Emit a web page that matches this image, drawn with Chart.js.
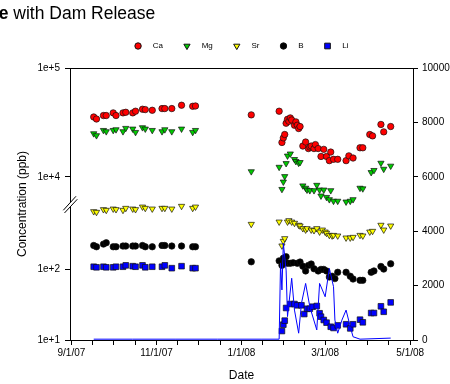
<!DOCTYPE html>
<html>
<head>
<meta charset="utf-8">
<script src="https://cdn.jsdelivr.net/npm/chart.js@4.4.1/dist/chart.umd.min.js"></script>
<style>
  html, body { margin: 0; padding: 0; background: #fff; }
</style>
</head>
<body>
<canvas id="chart" width="450" height="384"></canvas>
<script>
// fall 2007 samples (all species on the same days)
const fallDates = ['9/17/07','9/19/07','9/24/07','9/26/07','10/1/07','10/3/07','10/8/07','10/10/07','10/15/07','10/17/07',
  '10/22/07','10/24/07','10/29/07','11/5/07','11/7/07','11/12/07','11/19/07','11/27/07','11/29/07'];
const caFall = [35500,34000,36600,36600,38700,36600,38700,39200,38700,40100,41800,41500,40900,42400,42400,42400,45500,44500,44800];
const mgFall = [25000,24000,26800,26100,26800,27200,26100,28000,27600,25700,28400,27600,26800,26100,27200,26100,27600,25700,26800];
const srFall = [661,646,706,690,720,706,690,736,720,706,768,736,720,736,736,720,786,736,768];
const bFall  = [218,209,228,238,209,209,214,214,214,214,218,209,209,218,218,214,214,209,209];
const liFall = [109,107,109,107,107,109,109,114,111,109,114,107,109,109,114,104,111,104,104];

// 2008 samples, during the dam release
const caDates = ['1/8/08','1/28/08','1/30/08','1/31/08','2/1/08','2/2/08','2/3/08','2/4/08','2/5/08','2/6/08',
  '2/8/08','2/9/08','2/10/08','2/11/08','2/12/08','2/14/08','2/16/08','2/18/08','2/19/08','2/20/08',
  '2/22/08','2/23/08','2/25/08','2/27/08','2/29/08','3/2/08','3/4/08','3/5/08','3/7/08','3/10/08',
  '3/16/08','3/18/08','3/21/08','3/26/08','3/28/08','4/2/08','4/4/08','4/10/08','4/12/08','4/17/08'];
const caValues = [37100,40100,20700,22800,24500,31100,33800,32400,34800,33300,
  29800,32000,29800,27800,29000,19200,20900,18200,18800,19200,
  18200,19800,18200,15400,17900,15400,14100,16900,14500,14500,
  14100,15600,14900,18500,18500,24500,23800,30300,25900,29000];

const mgDates = ['1/8/08','1/28/08','1/30/08','1/31/08','2/1/08','2/2/08','2/3/08','2/5/08','2/8/08','2/9/08',
  '2/11/08','2/12/08','2/14/08','2/16/08','2/17/08','2/19/08','2/22/08','2/24/08','2/26/08','2/27/08',
  '2/29/08','3/2/08','3/4/08','3/5/08','3/7/08','3/10/08','3/16/08','3/19/08','3/21/08','3/26/08',
  '3/28/08','4/3/08','4/5/08','4/10/08','4/12/08','4/17/08'];
const mgValues = [11200,12300,7700,9000,10100,13300,15600,16300,14500,13900,
  13400,13600,8300,7900,7600,7500,7500,8400,7600,6700,
  7600,6500,6200,7500,6000,6000,5900,6000,6200,7900,
  7800,11000,11500,13400,11800,12600];

const srDates = ['1/8/08','1/28/08','1/30/08','1/31/08','2/1/08','2/3/08','2/4/08','2/6/08','2/8/08','2/11/08',
  '2/12/08','2/14/08','2/16/08','2/17/08','2/20/08','2/22/08','2/24/08','2/26/08','2/28/08','3/1/08',
  '3/2/08','3/4/08','3/6/08','3/7/08','3/10/08','3/16/08','3/19/08','3/21/08','3/26/08','3/28/08',
  '4/2/08','4/4/08','4/10/08','4/12/08','4/17/08'];
const srValues = [437,471,216,251,274,471,493,471,452,424,
  414,380,363,380,363,356,380,340,363,340,
  326,305,299,305,299,280,280,286,305,299,
  340,348,424,363,414];

const bDates = ['1/8/08','1/28/08','1/30/08','1/31/08','2/1/08','2/2/08','2/3/08','2/5/08','2/7/08','2/10/08',
  '2/12/08','2/14/08','2/16/08','2/18/08','2/20/08','2/22/08','2/25/08','2/27/08','2/29/08','3/2/08',
  '3/4/08','3/6/08','3/8/08','3/10/08','3/16/08','3/19/08','3/21/08','3/26/08','3/28/08','4/3/08',
  '4/5/08','4/10/08','4/12/08','4/17/08'];
const bValues = [128,132,114,144,127,151,122,122,124,122,
  127,111,95,114,119,102,95,100,100,95,
  78,80,74,91,91,80,73,70,70,91,
  95,110,101,120];

const liDates = ['1/30/08','1/31/08','2/1/08','2/2/08','2/5/08','2/8/08','2/10/08','2/13/08','2/15/08','2/17/08',
  '2/19/08','2/21/08','2/24/08','2/26/08','2/27/08','2/29/08','3/2/08','3/5/08','3/7/08','3/10/08',
  '3/16/08','3/19/08','3/21/08','3/26/08','3/28/08','4/3/08','4/5/08','4/10/08','4/12/08','4/17/08'];
const liValues = [13.4,16.5,18.8,28.4,32.3,32.3,31,31,23.3,27.7,
  27.7,29.6,30.3,23.9,21.4,19.2,17.6,15.4,14.8,16.1,
  16.7,14.6,16.7,19.4,17.8,24.1,24.1,30,25.1,34.1];

// dam release (right axis)
const flowDates = ['9/17/07','10/15/07','11/15/07','12/15/07','1/15/08','1/28/08','1/29/08','1/30/08','1/31/08','2/2/08',
  '2/3/08','2/6/08','2/8/08','2/11/08','2/13/08','2/16/08','2/19/08','2/24/08','2/26/08','2/28/08',
  '3/1/08','3/4/08','3/7/08','3/8/08','3/10/08','3/13/08','3/16/08','3/19/08','3/21/08','3/26/08','4/17/08'];
const flowValues = [30,30,30,30,30,30,2820,1840,3550,2570,
  860,2270,1100,250,1350,2080,1220,370,2080,1840,
  1590,2630,1960,730,250,730,1100,490,120,30,70];

const xTickDates = ['9/1/07','11/1/07','1/1/08','3/1/08','5/1/08'];
const leftTickValues = [10, 100, 10000, 100000];
const leftTickLabels = ['1e+1','1e+2','1e+4','1e+5'];
const rightTickValues = [0, 2000, 4000, 6000, 8000, 10000];

const titleBold = 'e';
const titleRest = ' with Dam Release';
const FONT = '"Liberation Sans", Arial, sans-serif';

const origin = Date.UTC(2007, 8, 1);
function dayOf(s) {
  const [m, d, y] = s.split('/').map(Number);
  return (Date.UTC(2000 + y, m - 1, d) - origin) / 86400000;
}

// broken log axis: 10..1000 below the break, ~6000..1e5 above it
function brk(v) {
  const l = Math.log10(v);
  return v <= 2000 ? (l - 1) * 70.7 : 163.3 + (l - 4) * 109;
}

function pts(dates, values, tf) {
  return dates.map((d, i) => ({ x: dayOf(d), y: tf(values[i]) }));
}

const series = [
  { label: 'Ca', fall: caFall, dates: caDates, values: caValues, color: '#ff0000', style: 'circle', rot: 0, r: 3.2 },
  { label: 'Mg', fall: mgFall, dates: mgDates, values: mgValues, color: '#00cc00', style: 'triangle', rot: 180, r: 3.6 },
  { label: 'Sr', fall: srFall, dates: srDates, values: srValues, color: '#ffff00', style: 'triangle', rot: 180, r: 3.6 },
  { label: 'B',  fall: bFall,  dates: bDates,  values: bValues,  color: '#000000', style: 'circle', rot: 0, r: 3.2 },
  { label: 'Li', fall: liFall, dates: liDates, values: liValues, color: '#0000ff', style: 'rect', rot: 0, r: 4 }
];

const datasets = [{
  type: 'line',
  label: 'Dam release',
  data: pts(flowDates, flowValues, v => v),
  yAxisID: 'y2',
  borderColor: '#0000ff',
  borderWidth: 1,
  pointRadius: 0,
  tension: 0,
  fill: false
}];
series.forEach(s => {
  datasets.push({
    type: 'scatter',
    label: s.label,
    data: pts(fallDates, s.fall, brk).concat(pts(s.dates, s.values, brk)),
    yAxisID: 'y',
    pointStyle: s.style,
    rotation: s.rot,
    pointRadius: s.r,
    backgroundColor: s.color,
    borderColor: '#111',
    borderWidth: 0.7
  });
});

// major ticks every two months, three minor ticks between
const majorDays = xTickDates.map(dayOf);
const xTicks = [];
majorDays.forEach((d, i) => {
  xTicks.push(d);
  if (i < majorDays.length - 1) {
    const step = (majorDays[i + 1] - d) / 4;
    for (let k = 1; k < 4; k++) xTicks.push(d + k * step);
  }
});

const decor = {
  id: 'decor',
  afterDraw(chart) {
    const { ctx, chartArea: a } = chart;
    ctx.save();
    ctx.strokeStyle = '#000';
    ctx.lineWidth = 1;
    ctx.beginPath();
    ctx.moveTo(a.left, a.top + 0.5);
    ctx.lineTo(a.right, a.top + 0.5);
    ctx.stroke();

    // axis break marks
    const x = a.left, by = chart.scales.y.getPixelForValue(brk(1000)) + 5.5;
    ctx.fillStyle = '#fff';
    ctx.beginPath();
    ctx.moveTo(x - 6.7, by + 6); ctx.lineTo(x + 6, by - 8);
    ctx.lineTo(x + 7.3, by - 5); ctx.lineTo(x - 5.5, by + 8.7);
    ctx.closePath(); ctx.fill();
    ctx.beginPath();
    ctx.moveTo(x - 6.7, by + 6); ctx.lineTo(x + 6, by - 8);
    ctx.moveTo(x - 5.5, by + 8.7); ctx.lineTo(x + 7.3, by - 5);
    ctx.stroke();

    // legend
    ctx.font = '8px ' + FONT;
    ctx.textBaseline = 'middle';
    const widths = series.map(s => ctx.measureText(s.label).width);
    const total = 3.5 + widths.reduce((p, w) => p + w, 0) + series.length * 14.7 + (series.length - 1) * 24;
    let mx = (a.left + a.right) / 2 - total / 2 + 3.5;
    const ly = 46;
    series.forEach((s, i) => {
      ctx.fillStyle = s.color;
      ctx.strokeStyle = '#111';
      Chart.helpers.drawPoint(ctx, { pointStyle: s.style, radius: s.r, rotation: s.rot, borderWidth: 0.7 }, mx, ly);
      ctx.fillStyle = '#000';
      ctx.fillText(s.label, mx + 14.7, ly);
      mx += 14.7 + widths[i] + 24;
    });

    // title (cut at the left edge)
    ctx.textBaseline = 'alphabetic';
    ctx.font = 'bold 17.5px ' + FONT;
    ctx.fillText(titleBold, -1.3, 19);
    const bw = ctx.measureText(titleBold).width;
    ctx.font = '17.5px ' + FONT;
    ctx.fillText(titleRest, -1.3 + bw, 19);
    ctx.restore();
  }
};

const tickFont = { family: FONT, size: 10 };

new Chart(document.getElementById('chart'), {
  type: 'scatter',
  data: { datasets },
  options: {
    responsive: false,
    animation: false,
    devicePixelRatio: 1,
    layout: { padding: { top: 68, left: 0, right: 0, bottom: 0 } },
    plugins: { legend: { display: false }, tooltip: { enabled: false }, title: { display: false } },
    scales: {
      x: {
        type: 'linear',
        min: -1,
        max: 245,
        afterBuildTicks: s => { s.ticks = xTicks.map(v => ({ value: v })); },
        afterFit: s => { s.height = 44; },
        ticks: {
          autoSkip: false, maxRotation: 0, padding: 2, color: '#000', font: tickFont,
          callback: v => { const i = majorDays.indexOf(v); return i >= 0 ? xTickDates[i] : ''; }
        },
        grid: { drawOnChartArea: false, tickLength: 5, color: '#000' },
        border: { color: '#000', width: 1 },
        title: { display: true, text: 'Date', color: '#000', font: { family: FONT, size: 12 }, padding: { top: 0, bottom: 1.5 } }
      },
      y: {
        type: 'linear',
        position: 'left',
        min: 0,
        max: brk(100000),
        afterBuildTicks: s => { s.ticks = leftTickValues.map(v => ({ value: brk(v) })); },
        afterFit: s => { s.width = 70; },
        ticks: { padding: 5, color: '#000', font: tickFont, callback: (v, i) => leftTickLabels[i] },
        grid: { drawOnChartArea: false, tickLength: 5, color: '#000' },
        border: { color: '#000', width: 1 },
        title: { display: true, text: 'Concentration (ppb)', color: '#000', font: { family: FONT, size: 12 }, padding: { top: 15, bottom: 0 } }
      },
      y2: {
        type: 'linear',
        position: 'right',
        min: 0,
        max: 10000,
        afterBuildTicks: s => { s.ticks = rightTickValues.map(v => ({ value: v })); },
        afterFit: s => { s.width = 37; },
        ticks: { padding: 4, color: '#000', font: tickFont, callback: v => String(v) },
        grid: { drawOnChartArea: false, tickLength: 5, color: '#000' },
        border: { color: '#000', width: 1 }
      }
    }
  },
  plugins: [decor]
});
</script>
</body>
</html>
